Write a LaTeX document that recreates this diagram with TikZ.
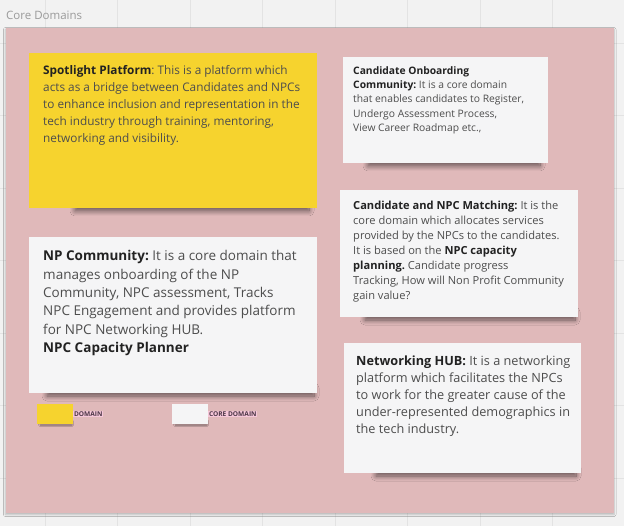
\documentclass[tikz,border=0pt]{standalone}
\usepackage{fontspec}
\setmainfont{Open Sans}
\usetikzlibrary{shadows.blur}
\definecolor{bgc}{HTML}{F2F2F2}
\definecolor{gridc}{HTML}{E3E3E3}
\definecolor{panelc}{HTML}{E0B9BA}
\definecolor{yellowc}{HTML}{F6D32E}
\definecolor{notec}{HTML}{F5F5F6}
\definecolor{txtc}{HTML}{4D4D4D}
\definecolor{boldc}{HTML}{222222}
\definecolor{titlec}{HTML}{9A9A9A}
\definecolor{tagc}{HTML}{F6C7D9}
\definecolor{tagtxt}{HTML}{4A3545}
\begin{document}
\frenchspacing
\begin{tikzpicture}[x=1pt,y=-1pt,
  sticky/.style={anchor=north west,inner sep=0pt,outer sep=0pt},
  notetext/.style={anchor=north west,inner sep=0pt,align=left,text=txtc},
  curl/.style={blur shadow={shadow xshift=0pt,shadow yshift=-2pt,shadow blur radius=5pt,shadow opacity=55,shadow blur steps=12}},
  tag/.style={anchor=west,fill=tagc,inner xsep=0.8pt,inner ysep=1pt,text=tagtxt,font=\fontsize{6.6}{7}\selectfont\bfseries}
]
\useasboundingbox (0,0) rectangle (624,526);
\fill[bgc] (0,0) rectangle (624,526);
\foreach \gx in {45,117.5,190,262.5,335,407.5,480,552.5}
  \draw[gridc,line width=0.8pt] (\gx,0) -- (\gx,526);
\foreach \gy in {43,115.5,188,260.5,333,405.5,478}
  \draw[gridc,line width=0.8pt] (0,\gy) -- (624,\gy);
\node[anchor=west,inner sep=0pt,text=titlec,font=\fontsize{11.5}{13}\selectfont] (title) at (6,15) {Core Domains};
% panel
\path[blur shadow={shadow xshift=0pt,shadow yshift=-1.5pt,shadow blur radius=2pt,shadow opacity=25}] (5.5,28) rectangle (614,513);
\node[sticky,fill=panelc,minimum width=608.5pt,minimum height=485pt] (panel) at (5.5,28) {};
% shadows
\path[curl] (75,200) rectangle (309,209);
\path[curl] (368,156) rectangle (540,164);
\path[curl] (365,310) rectangle (575,318);
\path[curl] (47,386) rectangle (314,394);
\path[curl] (376,466) rectangle (576,474);
\path[blur shadow={shadow xshift=0pt,shadow yshift=-1pt,shadow blur radius=1.5pt,shadow opacity=40}] (40,420) rectangle (72,424);
\path[blur shadow={shadow xshift=0pt,shadow yshift=-1pt,shadow blur radius=1.5pt,shadow opacity=40}] (175,420) rectangle (207,424);
% sticky notes
\node[sticky,fill=yellowc,minimum width=288pt,minimum height=155pt] (spot) at (29,53) {};
\node[sticky,fill=notec,minimum width=205pt,minimum height=106pt] (onb) at (343,57) {};
\node[sticky,fill=notec,minimum width=238pt,minimum height=127pt] (match) at (340,190) {};
\node[sticky,fill=notec,minimum width=288pt,minimum height=156pt] (npc) at (29,237) {};
\node[sticky,fill=notec,minimum width=237pt,minimum height=130pt] (hub) at (344,343) {};
% texts
\node[notetext,font=\fontsize{11.8}{17.1}\selectfont] (spottxt) at (43,65)
 {\textcolor{boldc}{\textbf{Spotlight Platform}}: This is a platform which\\
  acts as a bridge between Candidates and NPCs\\
  to enhance inclusion and representation in the\\
  tech industry through training, mentoring,\\
  networking and visibility.};
\node[notetext,font=\fontsize{10.3}{14.2}\selectfont] (onbtxt) at (353,66.5)
 {\textcolor{boldc}{\textbf{Candidate Onboarding}}\\
  \textcolor{boldc}{\textbf{Community:}} It is a core domain\\
  that enables candidates to Register,\\
  Undergo Assessment Process,\\
  View Career Roadmap etc.,};
\node[notetext,font=\fontsize{11.1}{15}\selectfont] (matchtxt) at (353,201.2)
 {\textcolor{boldc}{\textbf{Candidate and NPC Matching:}} It is the\\
  core domain which allocates services\\
  provided by the NPCs to the candidates.\\
  It is based on the \textcolor{boldc}{\textbf{NPC capacity}}\\
  \textcolor{boldc}{\textbf{planning.}} Candidate progress\\
  Tracking, How will Non Profit Community\\
  gain value?};
\node[notetext,font=\fontsize{13.5}{18.4}\selectfont] (npctxt) at (43,250.2)
 {\textcolor{boldc}{\textbf{NP Community:}} It is a core domain that\\
  manages onboarding of the NP\\
  Community, NPC assessment, Tracks\\
  NPC Engagement and provides platform\\
  for NPC Networking HUB.\\
  \textcolor{boldc}{\textbf{NPC Capacity Planner}}};
\node[notetext,font=\fontsize{12.7}{17}\selectfont] (hubtxt) at (356,355.2)
 {\textcolor{boldc}{\textbf{Networking HUB:}} It is a networking\\
  platform which facilitates the NPCs\\
  to work for the greater cause of the\\
  under-represented demographics in\\
  the tech industry.};
% legend
\node[sticky,fill=yellowc,minimum width=36pt,minimum height=20pt] (legy) at (37,404) {};
\node[sticky,fill=notec,minimum width=36pt,minimum height=20pt] (legw) at (172,404) {};
\node[tag] (tagy) at (73,414) {DOMAIN};
\node[tag] (tagw) at (208,414) {CORE DOMAIN};
\end{tikzpicture}
\end{document}
